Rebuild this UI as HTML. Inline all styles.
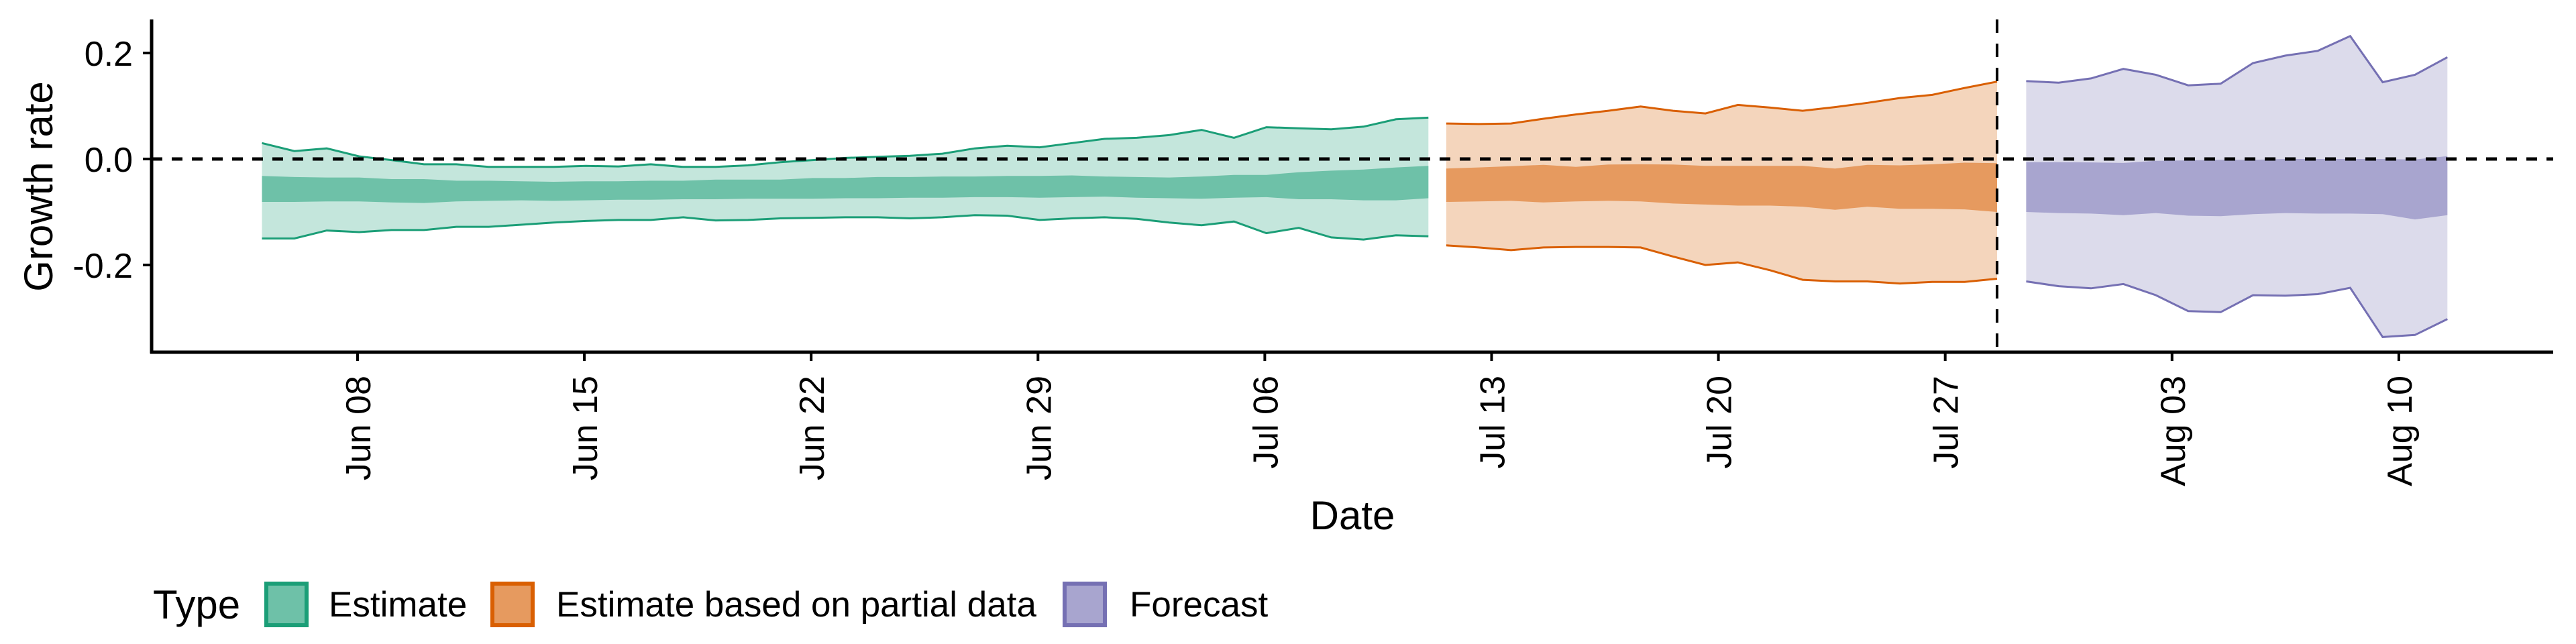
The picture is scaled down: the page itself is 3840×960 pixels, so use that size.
<!DOCTYPE html>
<html><head><meta charset="utf-8"><style>
html,body{margin:0;padding:0;background:#fff;}
svg{display:block;font-family:"Liberation Sans",sans-serif;}
</style></head><body>
<svg id="chart" width="3840" height="960" viewBox="0 0 3840 960">
<g id="bands"></g>
<g id="axes"></g>
</svg>
<script>
// ---- data ----
const tickDays = [0,7,14,21,28,35,42,49,56,63];
const tickLabels = ["Jun 08","Jun 15","Jun 22","Jun 29","Jul 06","Jul 13","Jul 20","Jul 27","Aug 03","Aug 10"];
const yTicks = [-0.2, 0.0, 0.2];
const yTickLabels = ["-0.2","0.0","0.2"];
const estStart = -2.95;
const estUpper90 = [0.03,0.015,0.02,0.005,-0.002,-0.01,-0.01,-0.015,-0.015,-0.015,-0.013,-0.014,-0.01,-0.015,-0.015,-0.012,-0.006,-0.002,0.002,0.004,0.006,0.01,0.02,0.025,0.022,0.03,0.038,0.04,0.045,0.055,0.04,0.06,0.058,0.056,0.061,0.075,0.078];
const estLower90 = [-0.15,-0.15,-0.135,-0.138,-0.134,-0.134,-0.128,-0.128,-0.124,-0.12,-0.117,-0.115,-0.115,-0.11,-0.116,-0.115,-0.112,-0.111,-0.11,-0.11,-0.112,-0.11,-0.106,-0.107,-0.115,-0.112,-0.11,-0.113,-0.12,-0.125,-0.118,-0.14,-0.13,-0.148,-0.152,-0.144,-0.146];
const estUpper50 = [-0.032,-0.034,-0.035,-0.035,-0.038,-0.038,-0.041,-0.041,-0.042,-0.043,-0.042,-0.042,-0.041,-0.041,-0.039,-0.039,-0.039,-0.036,-0.036,-0.034,-0.034,-0.033,-0.033,-0.032,-0.032,-0.031,-0.033,-0.034,-0.035,-0.033,-0.03,-0.03,-0.025,-0.022,-0.02,-0.016,-0.013];
const estLower50 = [-0.081,-0.081,-0.08,-0.08,-0.082,-0.083,-0.08,-0.079,-0.078,-0.079,-0.078,-0.077,-0.077,-0.076,-0.076,-0.075,-0.075,-0.075,-0.074,-0.074,-0.073,-0.073,-0.072,-0.072,-0.073,-0.072,-0.071,-0.073,-0.074,-0.075,-0.073,-0.072,-0.076,-0.076,-0.078,-0.078,-0.074];
const partStart = 33.6;
const partUpper90 = [0.067,0.066,0.067,0.076,0.084,0.091,0.099,0.091,0.086,0.102,0.097,0.091,0.098,0.106,0.115,0.121,0.134,0.146];
const partLower90 = [-0.163,-0.167,-0.172,-0.167,-0.166,-0.166,-0.167,-0.184,-0.2,-0.195,-0.21,-0.228,-0.231,-0.231,-0.235,-0.232,-0.232,-0.226];
const partUpper50 = [-0.018,-0.016,-0.0135,-0.011,-0.015,-0.0105,-0.01,-0.0105,-0.013,-0.013,-0.013,-0.013,-0.018,-0.011,-0.012,-0.01,-0.007,-0.008];
const partLower50 = [-0.081,-0.08,-0.079,-0.082,-0.08,-0.079,-0.08,-0.084,-0.086,-0.088,-0.088,-0.09,-0.096,-0.09,-0.094,-0.094,-0.095,-0.1];
const fcStart = 51.5;
const fcUpper90 = [0.147,0.144,0.152,0.17,0.159,0.139,0.142,0.181,0.195,0.204,0.232,0.145,0.159,0.192];
const fcLower90 = [-0.231,-0.24,-0.244,-0.236,-0.257,-0.287,-0.289,-0.257,-0.258,-0.255,-0.243,-0.336,-0.332,-0.302];
const fcUpper50 = [-0.006,-0.006,-0.0065,-0.0075,-0.0035,-0.0025,-0.0015,-0.0015,0,0,0,0,-0.001,0.0055];
const fcLower50 = [-0.1,-0.102,-0.103,-0.106,-0.102,-0.107,-0.108,-0.104,-0.102,-0.103,-0.103,-0.104,-0.114,-0.106];
const vlineDay = 50.6;
const legendLabels = ["Estimate","Estimate based on partial data","Forecast"];

// ---- scales ----
const X0 = 226, X1 = 3806, YTOP = 29, YBOT = 525;
function xs(d){ return 533 + d*48.3; }
function ys(v){ return 237 - v*790; }
const NS = "http://www.w3.org/2000/svg";
function mk(tag, attrs, parent){ const e=document.createElementNS(NS,tag); for(const k in attrs) e.setAttribute(k,attrs[k]); parent.appendChild(e); return e; }
const bands = document.getElementById('bands');
const axes = document.getElementById('axes');

function ribbon(start, up, lo, fill){
  let pts = up.map((v,i)=>xs(start+i).toFixed(1)+","+ys(v).toFixed(1));
  for(let i=lo.length-1;i>=0;i--) pts.push(xs(start+i).toFixed(1)+","+ys(lo[i]).toFixed(1));
  return mk('polygon',{points:pts.join(" "),fill:fill},bands);
}
function edge(start, arr, stroke){
  const pts = arr.map((v,i)=>xs(start+i).toFixed(1)+","+ys(v).toFixed(1)).join(" ");
  return mk('polyline',{points:pts,fill:"none",stroke:stroke,"stroke-width":3},bands);
}
const series = [
  {name:"estimate",start:estStart,u9:estUpper90,l9:estLower90,u5:estUpper50,l5:estLower50,outer:"#C4E6DC",inner:"#6EC1A8",line:"#1B9E77"},
  {name:"partial",start:partStart,u9:partUpper90,l9:partLower90,u5:partUpper50,l5:partLower50,outer:"#F4D5BC",inner:"#E69A5F",line:"#D95F02"},
  {name:"forecast",start:fcStart,u9:fcUpper90,l9:fcLower90,u5:fcUpper50,l5:fcLower50,outer:"#DCDBEB",inner:"#A8A5CF",line:"#7570B3"}
];
series.forEach(s=>{
  let e = ribbon(s.start,s.u9,s.l9,s.outer);
  
  
  e = ribbon(s.start,s.u5,s.l5,s.inner);
  
  
  e = edge(s.start,s.u9,s.line);
  
  
  e = edge(s.start,s.l9,s.line);
  
  
});

// reference lines
let hl = mk('line',{x1:X0,x2:X1,y1:ys(0),y2:ys(0),stroke:"#000","stroke-width":5,"stroke-dasharray":"16 14"},axes);


let vl = mk('line',{x1:xs(vlineDay),x2:xs(vlineDay),y1:YTOP,y2:YBOT,stroke:"#000","stroke-width":4,"stroke-dasharray":"20 16"},axes);



// axes
let ya = mk('line',{x1:X0,x2:X0,y1:YTOP,y2:YBOT+2,stroke:"#000","stroke-width":5},axes);


let xa = mk('line',{x1:X0-2,x2:X1,y1:YBOT,y2:YBOT,stroke:"#000","stroke-width":5},axes);



yTicks.forEach((v,i)=>{
  const t = mk('line',{x1:X0-13,x2:X0,y1:ys(v),y2:ys(v),stroke:"#000","stroke-width":4},axes);
  
  
  const l = mk('text',{x:198,y:ys(v)+19,"text-anchor":"end","font-size":52,fill:"#000"},axes);
  l.textContent = yTickLabels[i];
  
  
});
tickDays.forEach((d,i)=>{
  const t = mk('line',{x1:xs(d),x2:xs(d),y1:YBOT,y2:YBOT+13,stroke:"#000","stroke-width":4},axes);
  
  
  const x = xs(d)+19, y = 560;
  const l = mk('text',{x:x,y:y,"text-anchor":"end","font-size":52,fill:"#000",transform:`rotate(-90 ${x} ${y})`},axes);
  l.textContent = tickLabels[i];
  
  
});
</script>
<script>
(function(){
  const svg = document.getElementById('chart');
  const NS = "http://www.w3.org/2000/svg";
  function mk(tag, attrs){ const e=document.createElementNS(NS,tag); for(const k in attrs) e.setAttribute(k,attrs[k]); svg.appendChild(e); return e; }
  let t = mk('text',{x:2016,y:789,"text-anchor":"middle","font-size":60,fill:"#000"});
  t.textContent = "Date";
  
  
  t = mk('text',{x:78,y:278,"text-anchor":"middle","font-size":60,fill:"#000",transform:"rotate(-90 78 278)"});
  t.textContent = "Growth rate";
  
  
  t = mk('text',{x:228,y:922,"font-size":60,fill:"#000"});
  t.textContent = "Type";
  
  
  const boxX = [394,731,1584], textX = [490,829,1684];
  const fills = ["#6EC1A8","#E69A5F","#A8A5CF"], strokes = ["#1B9E77","#D95F02","#7570B3"];
  const names = ["legend-estimate","legend-partial","legend-forecast"];
  for(let i=0;i<3;i++){
    const r = mk('rect',{x:boxX[i]+3,y:870,width:60,height:62,fill:fills[i],stroke:strokes[i],"stroke-width":6});
    
    
    const l = mk('text',{x:textX[i],y:919,"font-size":53,fill:"#000"});
    l.textContent = legendLabels[i];
    
    
  }
})();
</script>
</body></html>
